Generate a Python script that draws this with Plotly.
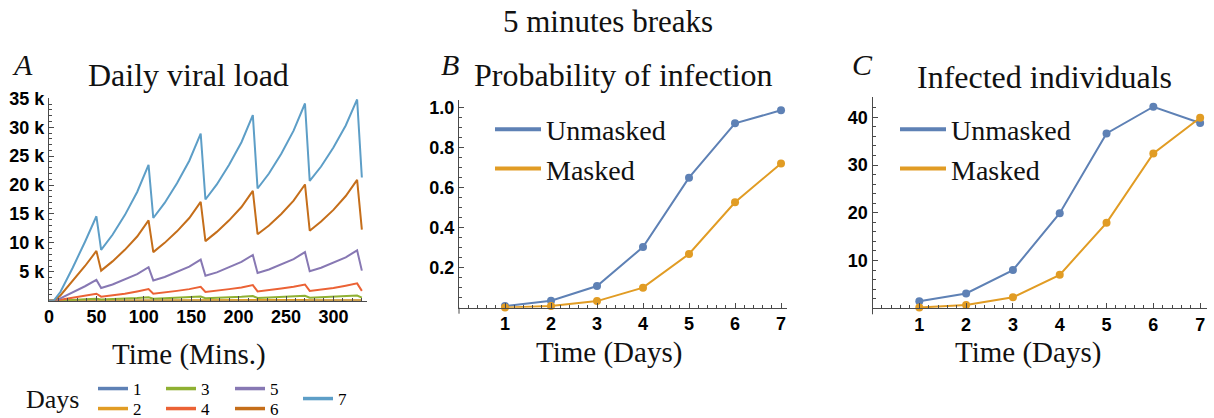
import plotly.graph_objects as go

W, H = 1214, 418

# ---------------- Panel A: viral load over the day (thousands of copies) ----------------
time_min = [0, 5, 12, 25, 38, 50, 55, 67, 80, 93, 105, 110, 122, 135, 148, 160, 165,
            177, 190, 203, 215, 220, 232, 245, 258, 270, 275, 287, 300, 313, 325, 330]

load_day1 = [0, 0, 0.001, 0.003, 0.006, 0.009, 0.005, 0.007, 0.009, 0.012, 0.015,
             0.009, 0.011, 0.013, 0.016, 0.019, 0.011, 0.013, 0.015, 0.018, 0.021,
             0.012, 0.014, 0.016, 0.019, 0.022, 0.013, 0.015, 0.017, 0.020, 0.023, 0.014]
load_day2 = [0, 0, 0.01, 0.02, 0.04, 0.06, 0.035, 0.045, 0.06, 0.08, 0.10,
             0.06, 0.07, 0.08, 0.10, 0.12, 0.07, 0.08, 0.095, 0.11, 0.13,
             0.08, 0.09, 0.10, 0.12, 0.14, 0.085, 0.095, 0.11, 0.13, 0.15, 0.09]
load_day3 = [0, 0, 0.04, 0.13, 0.24, 0.35, 0.20, 0.26, 0.35, 0.46, 0.60,
             0.35, 0.41, 0.50, 0.60, 0.72, 0.43, 0.48, 0.57, 0.67, 0.80,
             0.48, 0.54, 0.63, 0.72, 0.85, 0.51, 0.57, 0.66, 0.76, 0.88, 0.53]
load_day4 = [0, 0, 0.15, 0.5, 0.85, 1.2, 0.7, 0.9, 1.2, 1.6, 2.0,
             1.2, 1.4, 1.7, 2.0, 2.4, 1.5, 1.7, 2.0, 2.3, 2.7,
             1.6, 1.8, 2.1, 2.4, 2.8, 1.7, 1.9, 2.2, 2.6, 3.0, 1.7]
load_day5 = [0, 0, 0.4, 1.4, 2.5, 3.6, 2.2, 2.8, 3.7, 4.6, 5.8,
             3.5, 4.1, 5.0, 5.9, 7.1, 4.3, 4.9, 5.8, 6.7, 7.9,
             4.8, 5.4, 6.3, 7.2, 8.4, 5.1, 5.7, 6.6, 7.5, 8.7, 5.2]
load_day6 = [0, 0, 0.9, 3.4, 6.0, 8.6, 5.2, 6.8, 8.8, 11.1, 13.9,
             8.4, 10.0, 12.0, 14.3, 17.1, 10.3, 11.9, 13.9, 16.2, 19.0,
             11.5, 13.0, 15.0, 17.3, 20.1, 12.1, 13.7, 15.7, 18.1, 20.9, 12.3]
load_day7 = [0, 0, 1.5, 5.7, 10.2, 14.6, 8.8, 11.4, 14.8, 18.8, 23.5,
             14.3, 16.9, 20.3, 24.2, 28.9, 17.5, 20.1, 23.5, 27.4, 32.1,
             19.4, 22.0, 25.4, 29.4, 34.1, 20.7, 23.2, 26.5, 30.3, 34.8, 21.3]

day_labels = ["1", "2", "3", "4", "5", "6", "7"]
day_loads = [load_day1, load_day2, load_day3, load_day4, load_day5, load_day6, load_day7]
day_colors = ["#5E81B5", "#E19C24", "#8FB032", "#EB6235", "#8778B3", "#C56E1A", "#5D9EC7"]

load_ticks = [5, 10, 15, 20, 25, 30, 35]
load_tick_text = ["5 k", "10 k", "15 k", "20 k", "25 k", "30 k", "35 k"]
minute_ticks = [0, 50, 100, 150, 200, 250, 300]

# ---------------- Panels B and C ----------------
days = [1, 2, 3, 4, 5, 6, 7]
prob_unmasked = [0.008, 0.035, 0.108, 0.303, 0.649, 0.92, 0.985]
prob_masked = [0.001, 0.008, 0.033, 0.10, 0.268, 0.526, 0.72]
infected_unmasked = [1.5, 3.1, 8.0, 19.9, 36.6, 42.2, 38.8]
infected_masked = [0.15, 0.7, 2.3, 7.0, 17.9, 32.4, 39.9]

prob_ticks = [0.2, 0.4, 0.6, 0.8, 1.0]
prob_tick_text = ["0.2", "0.4", "0.6", "0.8", "1.0"]
infected_ticks = [10, 20, 30, 40]

COL_UNMASKED = "#5E81B5"
COL_MASKED = "#E19C24"

SERIF = "Liberation Serif"
TICK_FONT = dict(family="Liberation Sans", size=18, color="black", weight="bold")
AXIS_COL = "#4a4a4a"


def px_x(x):
    return x / W


def px_y(y):
    return 1 - y / H


def bold(labels):
    return [f"<b>{s}</b>" for s in labels]


fig = go.Figure()


def legend_key(i):
    return "legend" if i == 1 else f"legend{i}"


# Panel A curves; the legend swatches are drawn thicker by legend-only proxies
legend_spots = [(93, 389), (93, 409), (161, 389), (161, 409), (230, 389), (230, 409), (298, 399)]
for i, (lab, vals, col) in enumerate(zip(day_labels, day_loads, day_colors)):
    fig.add_trace(go.Scatter(
        x=time_min, y=vals, mode="lines", name=lab, showlegend=False,
        line=dict(color=col, width=2), xaxis="x", yaxis="y",
    ))
    fig.add_trace(go.Scatter(
        x=[None], y=[None], mode="lines", name=lab, legend=legend_key(i + 1),
        line=dict(color=col, width=3.5), xaxis="x", yaxis="y", hoverinfo="skip",
    ))


def add_pair(xs, ys, name, col, xa, ya, lg):
    fig.add_trace(go.Scatter(x=xs, y=ys, mode="lines+markers", name=name, showlegend=False,
                             line=dict(color=col, width=2), marker=dict(color=col, size=8),
                             xaxis=xa, yaxis=ya, cliponaxis=False))
    fig.add_trace(go.Scatter(x=[None], y=[None], mode="lines", name=name, legend=lg,
                             line=dict(color=col, width=4), xaxis=xa, yaxis=ya,
                             hoverinfo="skip"))


# Panel B
add_pair(days, prob_unmasked, "Unmasked", COL_UNMASKED, "x2", "y2", "legend8")
add_pair(days, prob_masked, "Masked", COL_MASKED, "x2", "y2", "legend8")
# Panel C
add_pair(days, infected_unmasked, "Unmasked", COL_UNMASKED, "x3", "y3", "legend9")
add_pair(days, infected_masked, "Masked", COL_MASKED, "x3", "y3", "legend9")


def axis_style(**kw):
    base = dict(showline=True, linecolor=AXIS_COL, linewidth=1, showgrid=False,
                zeroline=False, ticks="inside", ticklen=5, tickcolor=AXIS_COL,
                tickfont=TICK_FONT, fixedrange=True)
    base.update(kw)
    return base


def minor(step):
    return dict(dtick=step, ticklen=3, ticks="inside", tickcolor=AXIS_COL)


layout = dict(
    width=W, height=H, margin=dict(l=0, r=0, t=0, b=0, autoexpand=False),
    paper_bgcolor="white", plot_bgcolor="white",
    xaxis=axis_style(domain=[px_x(49), px_x(366.6)], range=[0, 335], anchor="y",
                     tickvals=minute_ticks, ticktext=bold(str(v) for v in minute_ticks),
                     minor=minor(10)),
    yaxis=axis_style(domain=[px_y(300.7), px_y(98.3)], range=[0, 35], anchor="x",
                     tickvals=load_ticks, ticktext=bold(load_tick_text), minor=minor(1)),
    xaxis2=axis_style(domain=[px_x(459), px_x(787)], range=[0, 7.13], anchor="y2",
                      tickvals=days, ticktext=bold(str(d) for d in days), minor=minor(0.2)),
    yaxis2=axis_style(domain=[px_y(307.7), px_y(100.1)], range=[0, 1.036], anchor="x2",
                      tickvals=prob_ticks, ticktext=bold(prob_tick_text), minor=minor(0.05)),
    xaxis3=axis_style(domain=[px_x(872.5), px_x(1206.7)], range=[0, 7.14], anchor="y3",
                      tickvals=days, ticktext=bold(str(d) for d in days), minor=minor(0.2)),
    yaxis3=axis_style(domain=[px_y(308.3), px_y(97.2)], range=[0, 44.2], anchor="x3",
                      tickvals=infected_ticks, ticktext=bold(str(v) for v in infected_ticks),
                      minor=minor(2)),
)

# Legends for the days (panel A)
for i, (lx, ly) in enumerate(legend_spots):
    layout[legend_key(i + 1)] = dict(x=px_x(lx), y=px_y(ly), xanchor="left", yanchor="middle",
                                     bgcolor="rgba(0,0,0,0)", borderwidth=0,
                                     font=dict(family=SERIF, size=17, color="black"))

for key, lx in [("legend8", 490), ("legend9", 895)]:
    layout[key] = dict(x=px_x(lx), y=px_y(149), xanchor="left", yanchor="middle",
                       bgcolor="rgba(0,0,0,0)", borderwidth=0, itemwidth=46,
                       font=dict(family=SERIF, size=28, color="#111"))

fig.update_layout(**layout)


def text(s, x, y, size, italic=False):
    fig.add_annotation(text=s, x=px_x(x), y=px_y(y), xref="paper", yref="paper",
                       xanchor="center", yanchor="middle", showarrow=False,
                       font=dict(family=SERIF, size=size, color="#111",
                                 style="italic" if italic else "normal"))


text("5 minutes breaks", 608, 22, 31)
text("Daily viral load", 188, 75, 32)
text("Probability of infection", 623, 75, 32)
text("Infected individuals", 1044, 77, 32)
text("A", 22, 65, 30, italic=True)
text("B", 450, 65, 30, italic=True)
text("C", 862, 64, 30, italic=True)
text("Time (Mins.)", 189, 354, 29)
text("Time (Days)", 609, 352, 29)
text("Time (Days)", 1028, 352, 29)
text("Days", 52, 399, 26)

# short stubs of the vertical axes below the horizontal axes
for ax_x, ax_y in [(459, 307.7), (872.5, 308.3)]:
    fig.add_shape(type="line", xref="paper", yref="paper",
                  x0=px_x(ax_x), x1=px_x(ax_x), y0=px_y(ax_y), y1=px_y(ax_y + 6),
                  line=dict(color=AXIS_COL, width=1))

fig.write_html("out.html")
